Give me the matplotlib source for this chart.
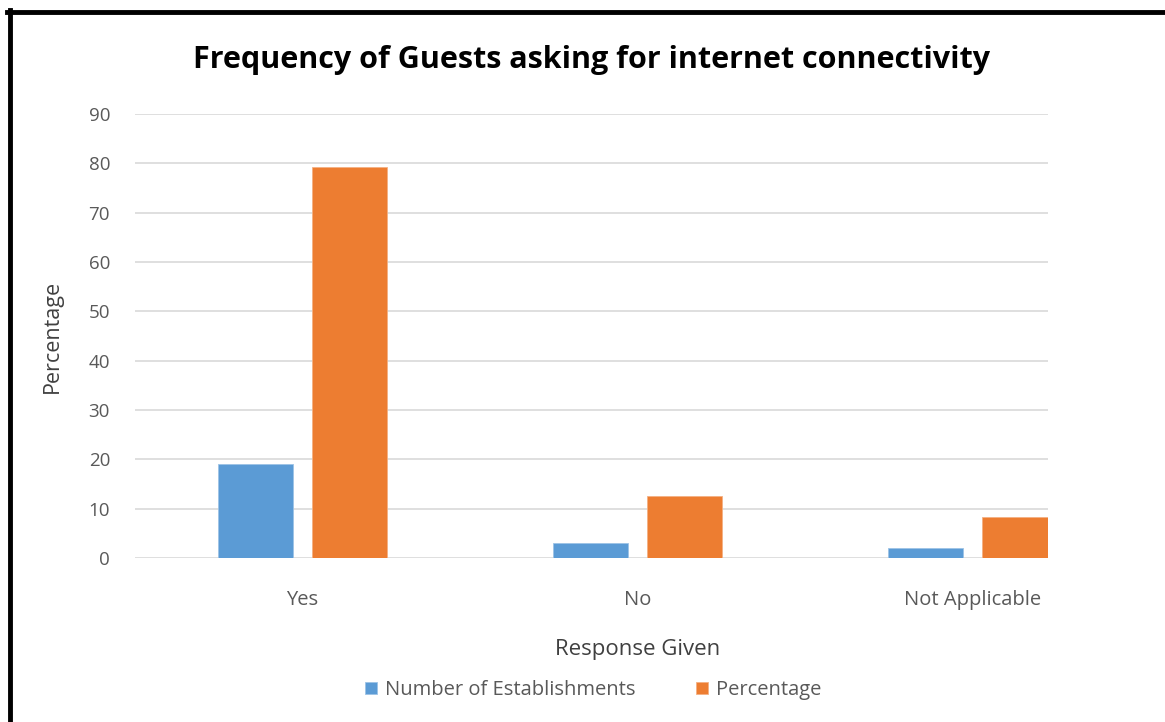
import numpy as np
import matplotlib
matplotlib.use("Agg")
from matplotlib import pyplot as plt
from matplotlib.lines import Line2D

# survey responses: guests asking for internet connectivity
responses = ["Yes", "No", "Not Applicable"]
establishments = [19, 3, 2]
percentages = [79.17, 12.5, 8.33]
y_ticks = [0, 10, 20, 30, 40, 50, 60, 70, 80, 90]

blue = "#5B9BD5"
orange = "#ED7D31"
grid_grey = "#D9D9D9"
text_grey = "#595959"

plt.rcParams["font.family"] = ["Open Sans", "DejaVu Sans"]

fig = plt.figure(figsize=(11.65, 7.22), dpi=100)
W, H = 1165, 722
# plot area in pixels: left 135, right 1048, top 114, bottom 558
ax = fig.add_axes([135 / W, (H - 558) / H, (1048 - 135) / W, (558 - 114) / H])

x = np.arange(len(responses))
width = 0.224
offset = 0.14
ax.bar(x - offset, establishments, width, color=blue, label="Number of Establishments",
       zorder=3, edgecolor="#9DC3E6", linewidth=0.6)
ax.bar(x + offset, percentages, width, color=orange, label="Percentage",
       zorder=3, edgecolor="#F4B183", linewidth=0.6)

# the right end of the plot is cut short, so the last bar is clipped
ax.set_xlim(-0.5, -0.5 + (1048 - 135) / 335)
ax.set_ylim(0, 90)
ax.set_yticks(y_ticks)
ax.set_xticks(x)
ax.set_xticklabels(responses)

ax.grid(axis="y", color=grid_grey, linewidth=1.2, zorder=0)
ax.grid(axis="x", visible=False)
for s in ax.spines.values():
    s.set_visible(False)
ax.tick_params(axis="y", length=0, pad=18, labelsize=13.5, labelcolor=text_grey)
ax.tick_params(axis="x", length=0, pad=23, labelsize=14.5, labelcolor=text_grey)

fig.text(592 / W, 1 - 60 / H, "Frequency of Guests asking for internet connectivity",
         ha="center", va="center", fontsize=22, fontweight="bold", color="black")
fig.text(638 / W, 1 - 650 / H, "Response Given", ha="center", va="center",
         fontsize=16, color="#404040")
fig.text(52 / W, 1 - 336 / H, "Percentage", ha="center", va="center",
         rotation=90, fontsize=15.5, color="#404040")

fig.legend(loc="center", bbox_to_anchor=(593 / W, 1 - 690 / H), ncol=2, frameon=False,
           handlelength=0.6, handleheight=0.6, handletextpad=0.4, columnspacing=3.0,
           fontsize=14.5, labelcolor=text_grey)

# heavy black frame along the top and left edges
fig.add_artist(Line2D([7 / W, 1], [1 - 12 / H, 1 - 12 / H], color="black", linewidth=3.5))
fig.add_artist(Line2D([9.5 / W, 9.5 / W], [0, 1 - 10 / H], color="black", linewidth=3.5))

fig.savefig("out.png", dpi=100, facecolor="white")
